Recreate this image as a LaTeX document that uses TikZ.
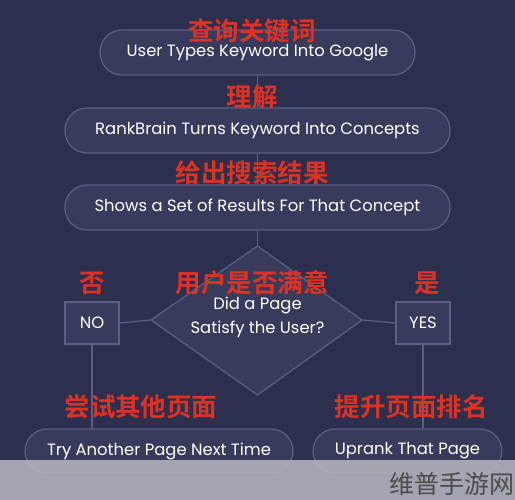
\documentclass[tikz,border=0pt]{standalone}
\usepackage{fontspec}
\setmainfont{Poppins}
\newfontfamily\cjk{Noto Sans CJK SC}[BoldFont={Noto Sans CJK SC Bold}]
\usetikzlibrary{shapes.geometric}
\definecolor{bg}{HTML}{2C2F4E}
\definecolor{boxfill}{HTML}{383B5C}
\definecolor{boxline}{HTML}{5C6084}
\definecolor{redlab}{HTML}{E03222}
\definecolor{band}{HTML}{B4B5BE}
\tikzset{
  pill/.style={draw=boxline, line width=1.2pt, fill=boxfill, rounded corners=22pt,
    text=white, font=\fontsize{16.4}{18}\selectfont, inner sep=0pt},
  sq/.style={draw=boxline, line width=1.2pt, fill=boxfill, text=white,
    font=\fontsize{16.4}{18}\selectfont, inner sep=0pt, minimum width=54pt, minimum height=42pt},
  conn/.style={draw=boxline, line width=1.2pt},
  zh/.style={text=redlab, font=\cjk\bfseries\fontsize{25.5}{27}\selectfont, inner sep=0pt}
}
\begin{document}
\begin{tikzpicture}[x=1pt,y=-1pt]
\useasboundingbox (0,0) rectangle (515,500);
\fill[bg] (0,0) rectangle (515,500);
% boxes
\node[pill, minimum width=315pt, minimum height=45pt] (b1) at (257.5,52.5) {User Types Keyword Into Google};
\node[pill, minimum width=385pt, minimum height=45pt] (b2) at (257.5,130.5) {RankBrain Turns Keyword Into Concepts};
\node[pill, minimum width=385pt, minimum height=45pt] (b3) at (257.5,207.5) {Shows a Set of Results For That Concept};
\node[sq] (no) at (92,323) {NO};
\node[sq] (yes) at (423,323) {YES};
\node[pill, minimum width=268pt, minimum height=44pt] (try) at (159,451) {Try Another Page Next Time};
\node[pill, minimum width=189pt, minimum height=44pt] (up) at (407.5,451) {Uprank That Page};
% diamond
\coordinate (dt) at (257.5,246);
\coordinate (dl) at (151,320);
\coordinate (dr) at (362,320);
\coordinate (db) at (257.5,395);
\draw[conn, fill=boxfill] (dt) -- (dr) -- (db) -- (dl) -- cycle;
\node[text=white, font=\fontsize{16.4}{18}\selectfont, align=center, inner sep=0pt] (dq) at (257.5,317)
  {Did a Page\\[6pt]Satisfy the User?};
% connectors
\draw[conn] (b1.south) -- (b2.north);
\draw[conn] (b2.south) -- (b3.north);
\draw[conn] (b3.south) -- (dt);
\draw[conn] (no.east) -- (dl);
\draw[conn] (yes.west) -- (dr);
\draw[conn] (no.south) -- (no.south |- try.north);
\draw[conn] (yes.south) -- (yes.south |- up.north);
% red labels
\node[zh] (l1) at (252,31) {查询关键词};
\node[zh] (l2) at (252,97) {理解};
\node[zh] (l3) at (252,173) {给出搜索结果};
\node[zh] (l4) at (92,283) {否};
\node[zh] (l5) at (252,283) {用户是否满意};
\node[zh] (l6) at (427,283) {是};
\node[zh] (l7) at (141,407) {尝试其他页面};
\node[zh] (l8) at (411,407) {提升页面排名};
% watermark band
\fill[band, opacity=0.88] (0,460) rectangle (515,500);
\node[anchor=west, text=black!70, font=\cjk\fontsize{25}{26}\selectfont, inner sep=0pt] (wm) at (389,484) {维普手游网};
\end{tikzpicture}
\end{document}
